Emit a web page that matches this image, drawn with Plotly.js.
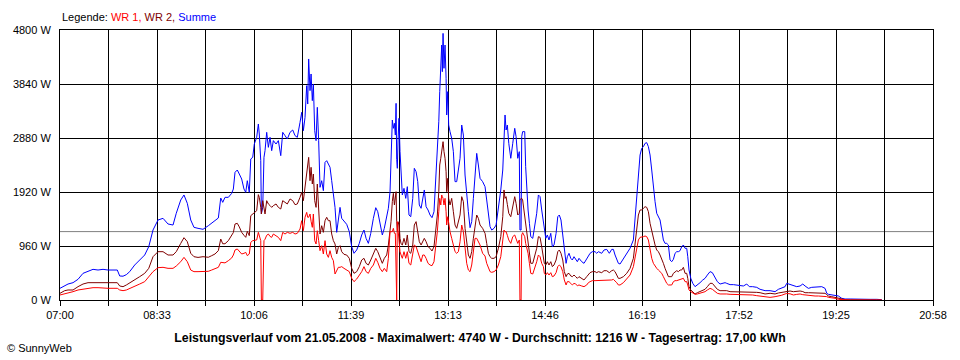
<!DOCTYPE html>
<html><head><meta charset="utf-8">
<script src="https://cdn.plot.ly/plotly-3.0.1.min.js"></script>
<style>html,body{margin:0;padding:0;background:#fff;} #chart{width:960px;height:360px;}</style>
</head><body><div id="chart"></div>
<script>
// minutes after 07:00
const minutes = [
0,4.5,7.7,12.5,17.3,22.1,26.9,31.7,36.5,41.3,
46.1,50.9,55,57.3,60.5,63.7,66.9,71.7,76.5,81.3,
85.2,89.3,94.1,98.9,103.7,108.5,111.6,115.9,119,122.2,
125.5,128.6,132.5,137.3,142.4,145.6,148.8,152,154.3,156.2,
158.4,161.6,164.8,166.4,168,170.2,172.1,174.4,176.6,178.3,
179.8,181.7,183.1,185,186.5,188.8,190.4,191.3,192.7,193.3,
194.6,195.8,196.8,198.4,200,201.6,203.2,204.8,207.4,209.6,
211.9,213.8,216,218.2,220.8,223.4,225.6,227.8,230.4,232,
233.6,235.2,236.8,237.8,238.7,240,241,242.2,243.2,244.5,
245.8,247,248.3,249.6,251.2,252.8,254.4,256,257.6,259.2,
260.8,262.4,264,265.6,267.2,268.8,270.4,272.6,275.2,277.7,
280,282.2,284.8,287.3,289.6,291.8,293.8,296,298.3,300.8,
303.1,305,307.2,309.4,311.3,313.6,315.2,316.8,317.8,319,
320,321,321.9,322.6,323.2,323.8,324.5,325.4,326.4,327.4,
328.6,330.2,331.9,333.4,335,336.7,338.6,340.1,341.8,343.4,
344.9,346.6,348.2,349.7,351.4,353.3,355.2,357.1,359,360.7,
362.2,363.6,364.5,365.5,366.4,367,367.7,368.6,369.6,370.6,
371.2,372.2,373.1,374.4,376,377.6,379.2,380.8,382.4,384,
385.6,387.2,388.8,390.4,392,393.6,395.2,396.8,398.4,400,
401.6,403.2,405.7,408,409.6,411.2,412.8,414.4,416.6,418.6,
420.8,423.1,425,426.2,427.2,428.2,429.4,430.8,432.7,434.6,
436.5,437.8,439.4,440.9,441.5,442.6,443.2,444.1,446.1,447,
448,449.3,450.6,451.9,453.8,455.7,457.6,459.2,460.8,462.4,
464,464.9,466.3,467.8,469.4,471.1,472.6,474.2,476.2,477.8,
479.3,480.9,482.6,484.1,485.8,487,488.6,490.3,491.8,493.4,
495,496.6,498.2,500.8,503,505.6,507.2,508.8,511,513.6,
515.2,516.8,520,522.2,524.8,527.3,529.6,531.2,532.8,534.4,
536,537.6,540.8,544,547.2,550.4,552.9,555.2,556.8,558.4,
560,561.6,563.2,564.8,566.4,568,569.6,571.2,572.8,574.4,
576,577.6,579.2,580.8,582.4,584,585.6,587.2,588.8,590.4,
592,593.6,595.2,596.8,598.4,600,601.6,602.6,603.8,605.5,
607.4,609.6,611.8,614.4,617,619.2,621.4,624,626.2,628.5,
631,633.6,636.2,638.4,640,643.2,646.4,649.6,652.8,656,
659.2,661.7,664.9,668.8,672,676.8,681.6,686.4,689.6,692.8,
696,697.6,700.8,704,707.2,710.4,713,715.2,718.4,721.6,
724.8,728,731.2,734.4,736,737.6,740.8,744,747.2,750.4,
753.6,758.4,764.8,771.2,777.6,784,788.8
];

// Summe (W)
const summe = [
208,249,284,308,368,474,504,545,533,545,
533,533,533,427,423,451,504,622,711,800,
948,1245,1422,1452,1351,1333,1541,1778,1867,1719,
1422,1292,1274,1257,1321,1363,1410,1458,1813,1736,
1825,1825,1896,1973,2270,2311,2240,2151,1973,1914,
2121,1914,2507,2536,2773,2892,3129,2951,2477,1529,
1647,2536,2655,2981,2714,2892,2655,2833,2773,2833,
2566,2981,2922,2862,2981,3022,2922,2892,3158,3336,
3010,3247,3810,3484,4285,3722,4018,3544,3840,3010,
2833,3425,2833,2003,2121,1944,2447,2477,2418,2359,
2121,1884,1647,1203,1470,1647,1452,1393,1345,1215,
948,830,889,1007,1156,1244,1096,1007,1185,1452,
1641,1570,1363,1156,1274,1452,1630,1926,2459,3200,
3052,3141,2933,3496,2500,2341,2844,3230,2637,2163,
1867,1985,1807,2015,1511,1481,1807,2341,2281,2104,
1689,1630,1807,1956,1659,1600,1511,1464,1570,2104,
2519,3170,3704,4296,4533,4059,4740,4119,4533,3941,
3289,3704,3111,2992,2874,2637,2104,2104,2311,2519,
3111,2933,2222,1807,1570,1286,1393,1807,2222,2607,
2400,2163,2104,2015,1778,1541,1304,1244,1274,1333,
1600,1956,2311,3052,3289,3022,3111,2785,2519,2785,
3052,2904,2519,2637,1244,1244,2904,2993,2993,2370,
2015,1600,1363,1126,1096,1304,1541,1867,1837,1600,
1422,1244,1096,1156,1067,1185,948,978,1185,1481,
1511,1422,1126,830,652,770,830,741,711,770,
711,681,741,681,652,741,800,830,859,859,
830,859,830,889,900,830,900,900,800,711,
652,640,741,830,919,1067,1600,2133,2578,2696,
2726,2785,2797,2726,2578,2311,1985,1748,1541,1481,
1422,1244,1067,1007,1007,978,711,681,723,830,
859,859,877,948,978,919,919,770,533,385,
296,237,267,308,356,385,444,504,486,415,
326,284,296,308,296,273,273,267,267,249,
284,237,237,225,190,166,166,148,190,207,
237,296,279,249,237,249,284,249,207,225,
225,225,237,207,119,101,89,89,71,30,
18,18,12,12,12,12,6
];

// WR 2 (W)
const wr2 = [
119,166,178,178,237,284,308,308,320,308,
308,308,308,249,237,267,308,368,415,474,
563,770,859,859,800,800,859,1007,1108,1037,
830,770,757,770,760,788,818,877,1084,1000,
1000,1055,1144,1200,1351,1363,1300,1203,1150,1114,
1221,1144,1499,1529,1560,1588,1873,1825,1647,1529,
1766,1650,1529,1766,1707,1680,1647,1677,1707,1647,
1618,1766,1736,1707,1796,1766,1695,1707,1825,1914,
1766,2003,2181,2300,2536,2121,2359,2062,2240,1766,
1647,2062,1529,1173,1321,1203,1410,1470,1410,1410,
1173,1055,996,818,936,966,859,812,800,741,
563,474,504,593,711,741,652,622,711,830,
919,859,741,652,741,800,978,1215,1400,1750,
1896,1689,1800,1926,1400,1215,1333,1393,1096,1000,
978,1096,978,1156,859,830,978,1333,1393,1215,
1037,978,1037,1096,1037,948,919,871,948,1215,
1511,1926,2400,2519,2696,2750,2815,2637,2519,2281,
1926,2163,1807,1689,1807,1570,1333,1274,1393,1511,
1837,1748,1274,1037,800,741,859,1096,1333,1511,
1452,1333,1274,1185,1007,830,770,741,741,770,
919,1126,1481,1956,1807,1837,1700,1541,1481,1659,
1837,1718,1511,1541,1778,1807,1807,1778,1481,1304,
1185,1007,770,652,652,770,919,1126,1114,948,
770,652,622,681,622,681,593,622,711,859,
889,830,711,504,415,462,474,427,415,444,
415,385,415,385,356,415,462,486,504,504,
486,504,486,521,521,486,521,533,504,444,
385,385,415,474,563,741,1126,1511,1600,1600,
1630,1659,1647,1570,1363,1215,1067,978,889,859,
800,741,652,563,474,415,415,415,474,504,
521,504,533,533,581,474,474,385,237,178,
136,107,130,148,166,190,237,296,296,237,
190,166,166,178,166,148,148,148,148,142,
148,142,142,136,130,107,119,107,125,135,
148,160,160,148,160,160,150,130,130,130,
130,130,125,119,95,71,59,47,30,12,
6,3,2,0,0,0,0
];

// WR 1 (W)
const wr1 = [
89,107,130,148,178,196,208,219,219,208,
208,208,208,178,166,178,208,249,284,326,
415,504,575,581,563,563,604,681,758,681,
533,504,504,504,510,533,551,581,670,660,
660,699,747,800,889,907,870,818,830,847,
788,818,1025,1055,1060,1067,1203,1144,1055,0,
0,1055,1080,1150,1173,1130,1114,1173,1144,1114,
1055,1203,1173,1203,1185,1203,1173,1185,1262,1410,
1232,1470,1558,1470,1470,1529,1400,1292,1529,1055,
996,1232,1055,877,966,818,1055,818,758,877,
758,699,462,521,581,581,593,563,533,504,
385,326,373,433,504,593,504,474,563,622,
741,670,563,504,563,504,741,1215,1215,1215,
1274,1185,1185,0,0,1393,1200,1096,859,800,
741,859,741,859,652,622,800,978,948,859,
741,681,800,800,741,652,622,610,681,919,
1215,1570,1807,1689,1867,1840,1807,1689,1807,1570,
1333,1481,1333,1215,1096,978,859,830,859,1037,
1333,1215,859,652,533,504,622,859,1096,1096,
1037,978,830,782,652,563,504,492,504,533,
622,770,1067,1244,1215,1215,1150,1067,1007,1126,
1156,1096,1007,1067,0,0,1156,1197,1126,1007,
948,830,652,474,462,563,681,800,770,652,
593,474,444,486,444,486,415,427,486,593,
622,593,504,356,267,326,326,296,267,296,
284,255,267,249,237,267,308,326,344,344,
344,356,344,356,356,344,356,367,344,308,
267,267,308,367,444,593,830,1067,1114,1114,
1126,1138,1126,1067,889,741,652,593,563,533,
504,474,415,356,296,267,267,267,326,344,
344,356,367,367,385,326,326,267,178,148,
119,101,107,119,130,148,178,207,190,148,
119,107,107,119,107,101,101,101,101,95,
89,89,89,77,71,59,47,59,70,85,
107,115,110,89,100,107,95,89,89,80,
71,71,71,71,60,47,41,30,12,6,
0,0,0,0,0,0,0
];

const averageW = 1216;
const dayMinutes = 838; // 07:00 .. 20:58
const xTickLabels = ["07:00","","08:33","","10:06","","11:39","","13:13","","14:46","","16:19","","17:52","","19:25","","20:58"];
const yTickValues = [0,960,1920,2880,3840,4800];
const yTickLabels = ["0 W","960 W","1920 W","2880 W","3840 W","4800 W"];
const titleText = "Leistungsverlauf vom 21.05.2008 - Maximalwert: 4740 W - Durchschnitt: 1216 W - Tagesertrag: 17,00 kWh";

const xTickValues = xTickLabels.map((_, i) => i * dayMinutes / (xTickLabels.length - 1));
const FONT = "Liberation Sans, Arial, sans-serif";

function trace(name, y, color) {
  return {type:'scatter', mode:'lines', name:name, x:minutes, y:y,
          line:{color:color, width:1}, hoverinfo:'skip'};
}
const data = [
  trace('Summe', summe, '#0000FF'),
  trace('WR 2', wr2, '#800000'),
  trace('WR 1', wr1, '#FF0000')
];

const layout = {
  width:960, height:360,
  margin:{l:60, r:27, t:30, b:60, pad:0},
  paper_bgcolor:'#ffffff', plot_bgcolor:'#ffffff',
  showlegend:false,
  font:{family:FONT, size:11, color:'#000000'},
  title:{text:'<b>'+titleText+'</b>', font:{family:FONT, size:12.3, color:'#000000'},
         x:0.5, xref:'container', xanchor:'center', y:1-338/360, yref:'container', yanchor:'middle'},
  xaxis:{range:[0, dayMinutes], tickmode:'array', tickvals:xTickValues, ticktext:xTickLabels,
         ticks:'outside', ticklen:5, tickcolor:'#000', tickwidth:1,
         showgrid:true, gridcolor:'#000000', gridwidth:1,
         showline:true, linecolor:'#000000', linewidth:1, mirror:true, zeroline:false,
         tickfont:{family:FONT, size:11, color:'#000'}, fixedrange:true},
  yaxis:{range:[0, 4800], tickmode:'array', tickvals:yTickValues, ticktext:yTickLabels,
         ticks:'', showgrid:true, gridcolor:'#000000', gridwidth:1,
         showline:true, linecolor:'#000000', linewidth:1, mirror:true, zeroline:false,
         ticklabelstandoff:6,
         tickfont:{family:FONT, size:11, color:'#000'}, fixedrange:true},
  shapes:[{type:'line', xref:'paper', x0:0, x1:1, yref:'y', y0:averageW, y1:averageW,
           line:{color:'#808080', width:1}, layer:'below'}],
  annotations:[
    {xref:'paper', yref:'paper', x:0, y:1+(30-17)/270, xanchor:'left', yanchor:'middle', showarrow:false,
     text:"Legende: <span style='color:#FF0000'>WR 1,</span> <span style='color:#800000'>WR 2,</span> <span style='color:#0000FF'>Summe</span>",
     font:{family:FONT, size:11, color:'#000'}},
    {xref:'paper', yref:'paper', x:(5-60)/873, y:(300-348)/270, xanchor:'left', yanchor:'middle', showarrow:false,
     text:"© SunnyWeb", font:{family:FONT, size:11, color:'#000'}}
  ]
};
Plotly.newPlot('chart', data, layout, {displayModeBar:false, staticPlot:true});
</script>
</body></html>
